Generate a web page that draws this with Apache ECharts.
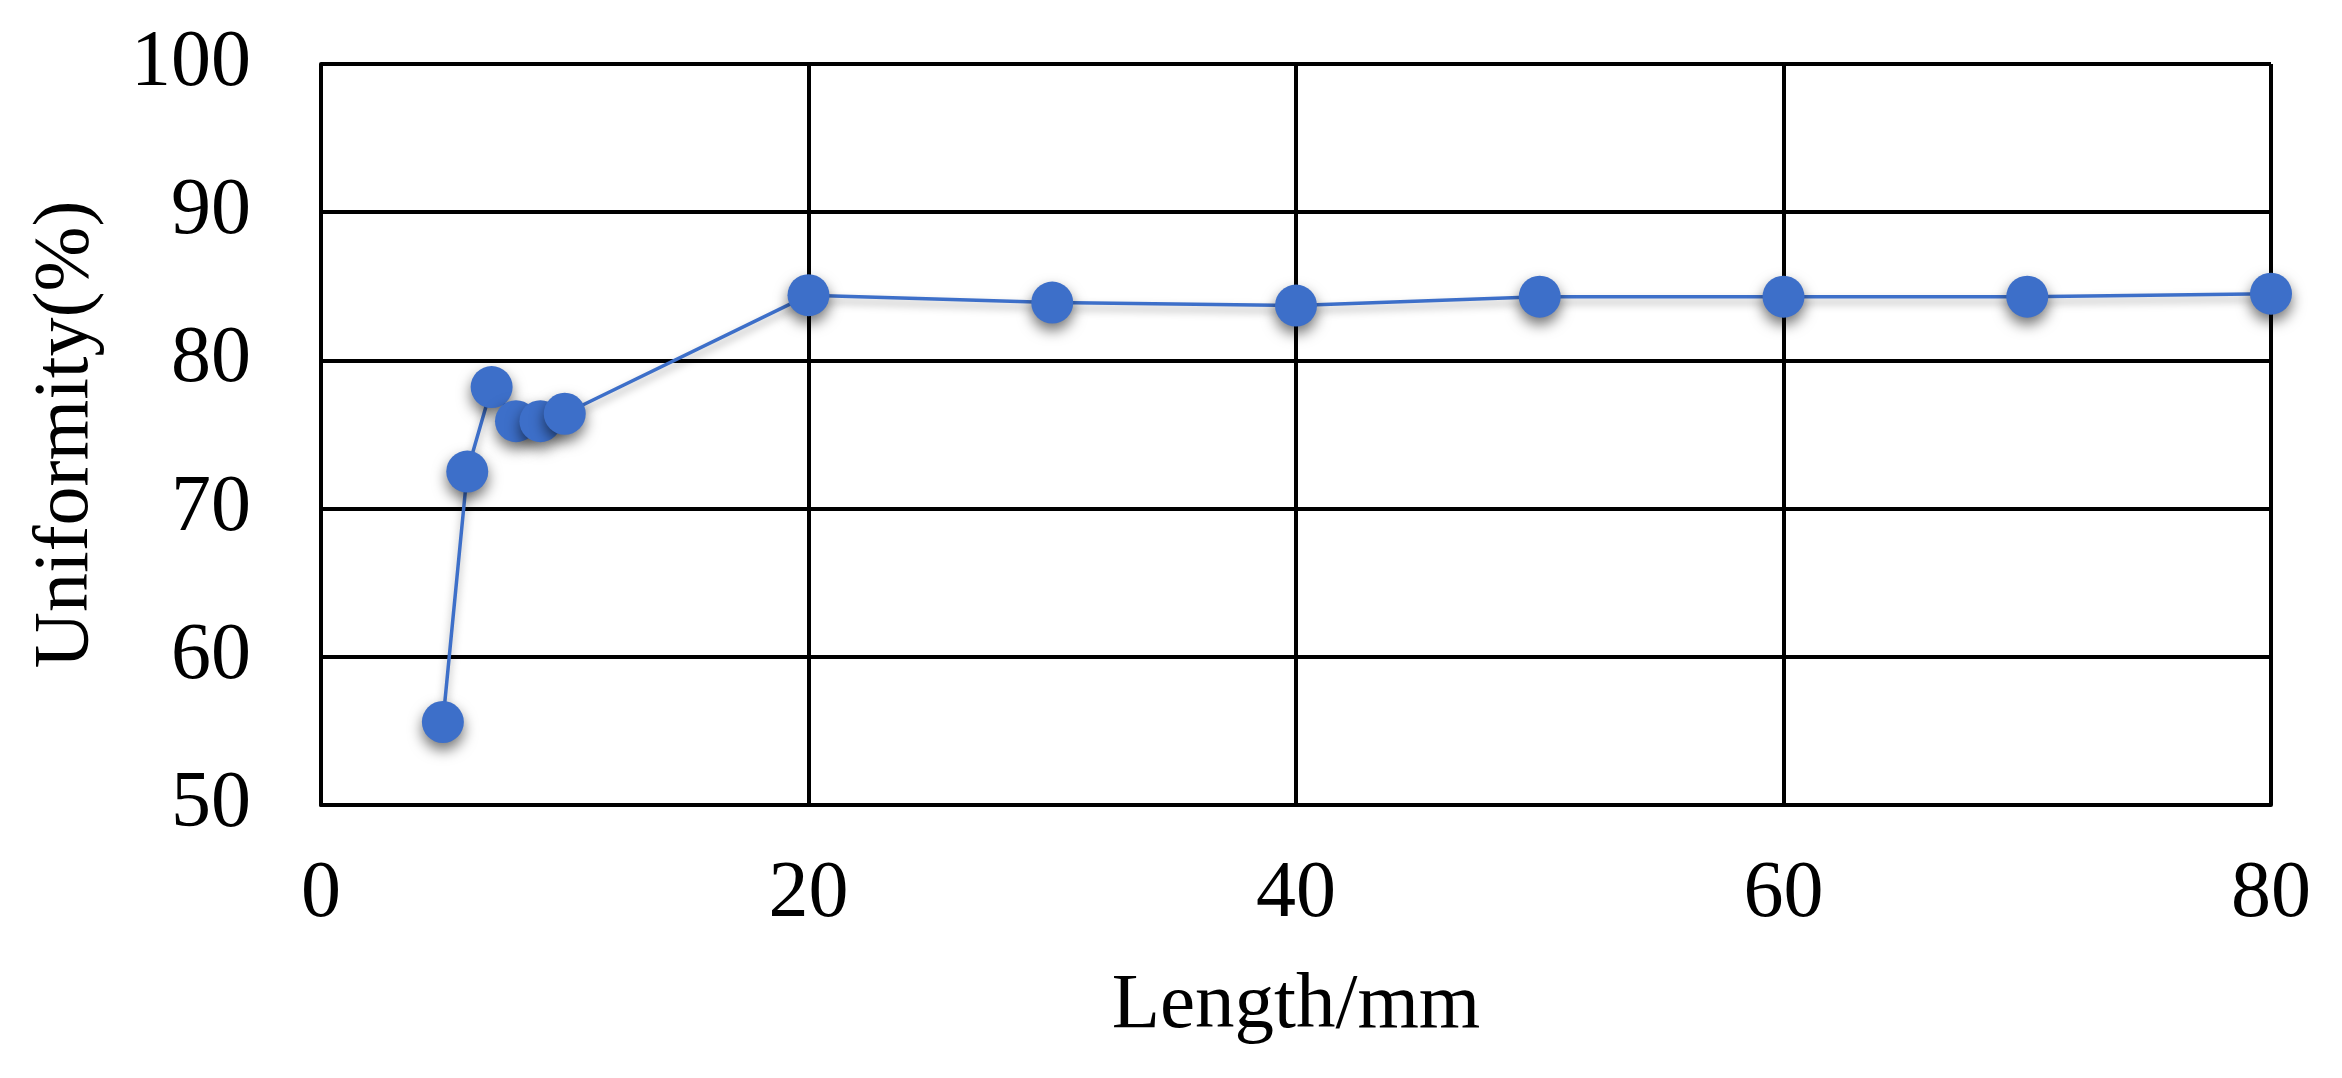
<!DOCTYPE html>
<html>
<head>
<meta charset="utf-8">
<script src="https://cdn.jsdelivr.net/npm/echarts@6/dist/echarts.min.js"></script>
<style>
  html, body { margin: 0; padding: 0; background: #fff; }
  #chart { width: 2342px; height: 1078px; }
</style>
</head>
<body>
<div id="chart"></div>
<script>
  // Length (mm) vs. uniformity (%).
  const lengths = [5, 6, 7, 8, 9, 10, 20, 30, 40, 50, 60, 70, 80];
  const uniformity = [55.6, 72.5, 78.2, 75.9, 75.9, 76.4, 84.4, 83.9, 83.7, 84.3, 84.3, 84.3, 84.5];

  const X_NAME = 'Length/mm';
  const Y_NAME = 'Uniformity(%)';

  const SERIES_COLOR = '#3d6fc9';
  const GRID_LINE = '#000';
  const FONT = '"Liberation Serif", "Times New Roman", serif';

  const chart = echarts.init(document.getElementById('chart'), null, { renderer: 'canvas' });

  const axisLine = { show: true, lineStyle: { color: GRID_LINE, width: 4 } };
  const splitLine = { show: true, lineStyle: { color: GRID_LINE, width: 4 } };

  chart.setOption({
    backgroundColor: '#fff',
    animation: false,
    textStyle: { fontFamily: FONT, color: '#000' },
    grid: { left: 321, right: 71, top: 64, bottom: 273, containLabel: false },
    xAxis: {
      type: 'value',
      min: 0, max: 80, interval: 20,
      name: X_NAME,
      nameLocation: 'middle',
      nameGap: 162,
      nameTextStyle: { fontFamily: FONT, fontSize: 79, color: '#000' },
      axisLine, splitLine,
      axisTick: { show: false },
      axisLabel: { fontFamily: FONT, fontSize: 80, color: '#000', margin: 50 },
    },
    yAxis: {
      type: 'value',
      min: 50, max: 100, interval: 10,
      name: Y_NAME,
      nameLocation: 'middle',
      nameRotate: 90,
      nameGap: 215,
      nameTextStyle: { fontFamily: FONT, fontSize: 78, color: '#000' },
      axisLine, splitLine,
      axisTick: { show: false },
      axisLabel: { fontFamily: FONT, fontSize: 80, color: '#000', margin: 70 },
    },
    series: [{
      type: 'line',
      data: lengths.map((x, i) => [x, uniformity[i]]),
      symbol: 'circle',
      symbolSize: 42,
      lineStyle: {
        color: SERIES_COLOR, width: 3.5,
        shadowColor: 'rgba(0,0,0,0.35)', shadowBlur: 8, shadowOffsetY: 5,
      },
      itemStyle: {
        color: SERIES_COLOR,
        shadowColor: 'rgba(0,0,0,0.55)', shadowBlur: 14, shadowOffsetY: 7,
      },
      z: 5,
    }],
  });
</script>
</body>
</html>
